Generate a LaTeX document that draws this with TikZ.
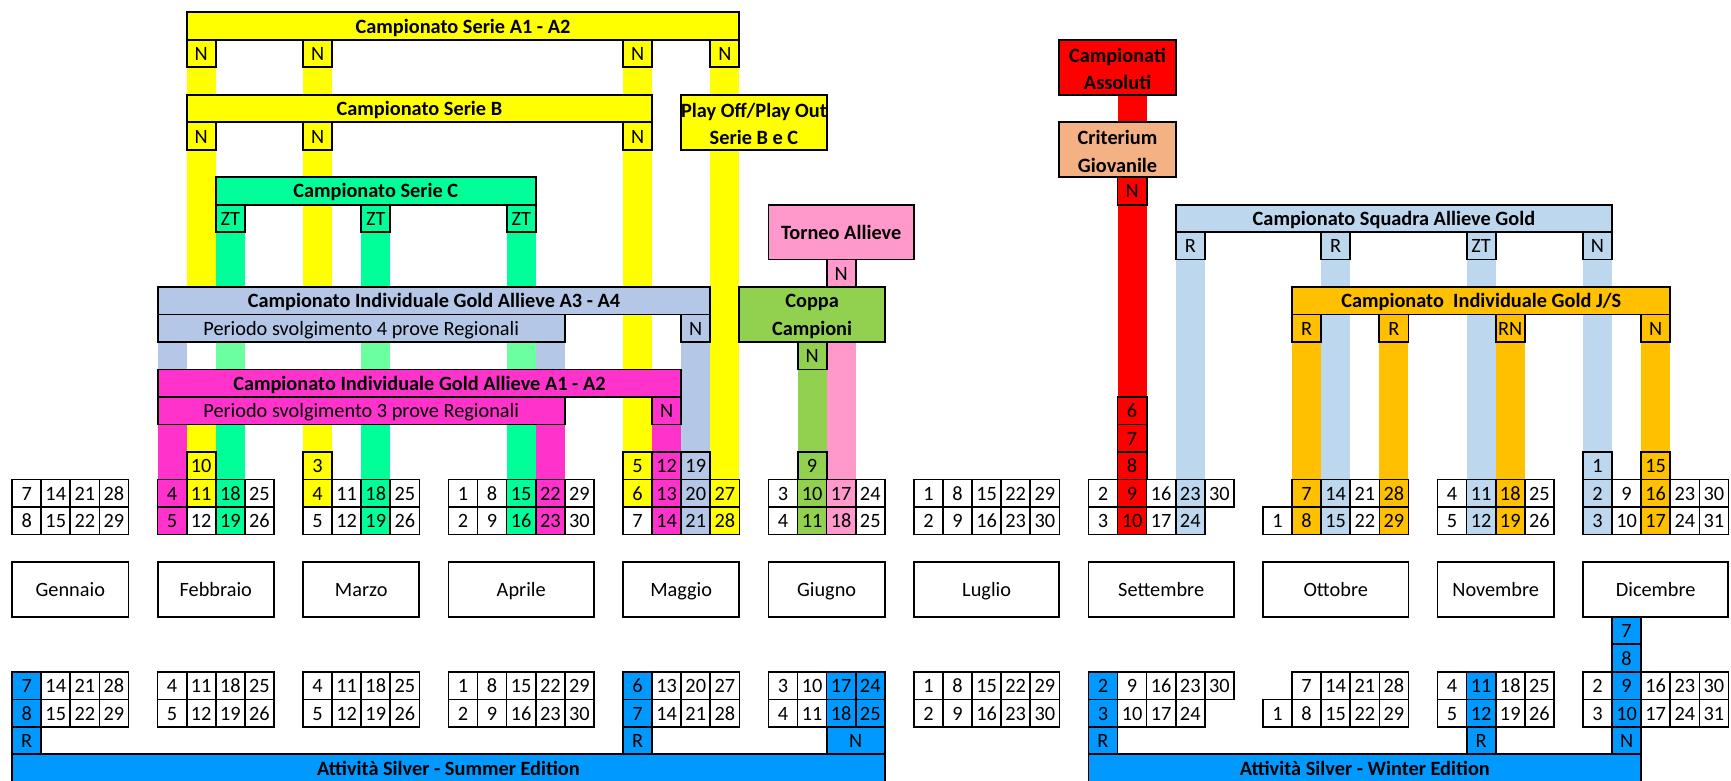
\documentclass[tikz,border=0pt]{standalone}
\usepackage{fontspec}
\setmainfont{Carlito}
\definecolor{cY}{HTML}{FFFF00}
\definecolor{cG}{HTML}{00FF99}
\definecolor{cLG}{HTML}{6CFF9F}
\definecolor{cL}{HTML}{B4C7E7}
\definecolor{cM}{HTML}{FF33CC}
\definecolor{cP}{HTML}{FF99CC}
\definecolor{cO}{HTML}{92D050}
\definecolor{cR}{HTML}{FF0000}
\definecolor{cSa}{HTML}{F4B183}
\definecolor{cB}{HTML}{BDD7EE}
\definecolor{cOr}{HTML}{FFC000}
\definecolor{cS}{HTML}{0099FF}
\tikzset{
  boxline/.style={draw=black, line width=1.7pt},
  cellline/.style={draw=black, line width=1.5pt},
  txt/.style={inner sep=0pt, font=\fontsize{18.4}{24.9}\selectfont, text height=13pt, text depth=0pt},
  txttwo/.style={inner sep=0pt, font=\fontsize{18.4}{24.9}\selectfont, align=center, yshift=-1.6pt},
}
\newcommand\colbar[4]{\fill[#4] (#1,#2) rectangle ({#1+1},{#3+1});}
\newcommand\bx[7]{\draw[boxline,fill=#6] (#2,#3) rectangle ({#4+1},{#5+1});
  \node[txt] (#1) at ({(#2+#4+1)/2},{(#3+#5+1)/2}) {#7};}
\newcommand\bxtwo[7]{\draw[boxline,fill=#6] (#2,#3) rectangle ({#4+1},{#5+1});
  \node[txttwo] (#1) at ({(#2+#4+1)/2},{(#3+#5+1)/2}) {#7};}
\newcommand\dtab[4]{\foreach \v [count=\i from 0] in {#4} {
  \draw[cellline] ({#2+\i},#3) rectangle ({#2+\i+1},{#3+1});
  \node[txt] (#1-\i) at ({#2+\i+0.5},{#3+0.5}) {\v};}}
\begin{document}
\begin{tikzpicture}[x=26.35pt,y=-24.9pt]
\useasboundingbox (-0.4175,-0.4418) rectangle (59.089,27.952);
% ---------- bars ----------
\colbar{6}{2}{2}{cY} \colbar{6}{5}{9}{cY} \colbar{6}{15}{17}{cY}
\colbar{10}{2}{2}{cY} \colbar{10}{5}{9}{cY} \colbar{10}{15}{17}{cY}
\colbar{21}{2}{2}{cY} \colbar{21}{5}{17}{cY}
\colbar{24}{2}{2}{cY} \colbar{24}{5}{18}{cY}
\foreach \c in {7,12,17}{\colbar{\c}{8}{9}{cG} \colbar{\c}{12}{12}{cLG} \colbar{\c}{15}{18}{cG}}
\colbar{5}{12}{12}{cL} \colbar{18}{12}{12}{cL} \colbar{23}{12}{18}{cL}
\colbar{5}{15}{18}{cM} \colbar{18}{15}{18}{cM} \colbar{22}{15}{18}{cM}
\colbar{28}{12}{18}{cP}
\colbar{27}{13}{18}{cO}
\colbar{38}{3}{3}{cR} \colbar{38}{7}{18}{cR}
\foreach \c in {40,45,50,54}{\colbar{\c}{9}{18}{cB}}
\foreach \c in {44,47,51,56}{\colbar{\c}{12}{18}{cOr}}
\colbar{0}{24}{26}{cS} \colbar{21}{24}{26}{cS} \fill[cS] (28,24) rectangle (30,27);
\colbar{37}{24}{26}{cS} \colbar{50}{24}{26}{cS} \colbar{55}{22}{26}{cS}
% ---------- Serie A / B / C ----------
\bx{sa}{6}{0}{24}{0}{cY}{\bfseries Campionato Serie A1 - A2}
\bx{saN1}{6}{1}{6}{1}{cY}{N} \bx{saN2}{10}{1}{10}{1}{cY}{N}
\bx{saN3}{21}{1}{21}{1}{cY}{N} \bx{saN4}{24}{1}{24}{1}{cY}{N}
\bx{sb}{6}{3}{21}{3}{cY}{\bfseries Campionato Serie B}
\bx{sbN1}{6}{4}{6}{4}{cY}{N} \bx{sbN2}{10}{4}{10}{4}{cY}{N} \bx{sbN3}{21}{4}{21}{4}{cY}{N}
\bxtwo{po}{23}{3}{27}{4}{cY}{\bfseries Play Off/Play Out\\\bfseries Serie B e C}
\bx{sc}{7}{6}{17}{6}{cG}{\bfseries Campionato Serie C}
\bx{scZ1}{7}{7}{7}{7}{cG}{ZT} \bx{scZ2}{12}{7}{12}{7}{cG}{ZT} \bx{scZ3}{17}{7}{17}{7}{cG}{ZT}
% ---------- Torneo / Coppa ----------
\bx{ta}{26}{7}{30}{8}{cP}{\bfseries Torneo Allieve}
\bx{taN}{28}{9}{28}{9}{cP}{N}
\bxtwo{cc}{25}{10}{29}{11}{cO}{\bfseries Coppa\\\bfseries Campioni}
\bx{ccN}{27}{12}{27}{12}{cO}{N}
% ---------- Gold Allieve ----------
\bx{g34}{5}{10}{23}{10}{cL}{\bfseries Campionato Individuale Gold Allieve A3 - A4}
\bx{g34p}{5}{11}{18}{11}{cL}{Periodo svolgimento 4 prove Regionali}
\bx{g34N}{23}{11}{23}{11}{cL}{N}
\bx{g12}{5}{13}{22}{13}{cM}{\bfseries Campionato Individuale Gold Allieve A1 - A2}
\bx{g12p}{5}{14}{18}{14}{cM}{Periodo svolgimento 3 prove Regionali}
\bx{g12N}{22}{14}{22}{14}{cM}{N}
% ---------- row 16 extra dates ----------
\bx{e10}{6}{16}{6}{16}{cY}{10} \bx{e3}{10}{16}{10}{16}{cY}{3}
\bx{e5}{21}{16}{21}{16}{cY}{5} \bx{e12}{22}{16}{22}{16}{cM}{12}
\bx{e19}{23}{16}{23}{16}{cL}{19} \bx{e9}{27}{16}{27}{16}{cO}{9}
\bx{e1}{54}{16}{54}{16}{cB}{1} \bx{e15}{56}{16}{56}{16}{cOr}{15}
% ---------- Assoluti / Criterium ----------
\bxtwo{ca}{36}{1}{39}{2}{cR}{\bfseries Campionati\\\bfseries Assoluti}
\bxtwo{cg}{36}{4}{39}{5}{cSa}{\bfseries Criterium\\\bfseries Giovanile}
\bx{cgN}{38}{6}{38}{6}{cR}{N}
\bx{r6}{38}{14}{38}{14}{cR}{6} \bx{r7}{38}{15}{38}{15}{cR}{7} \bx{r8}{38}{16}{38}{16}{cR}{8}
% ---------- Squadra Allieve / J-S ----------
\bx{sq}{40}{7}{54}{7}{cB}{\bfseries Campionato Squadra Allieve Gold}
\bx{sqR1}{40}{8}{40}{8}{cB}{R} \bx{sqR2}{45}{8}{45}{8}{cB}{R}
\bx{sqZ}{50}{8}{50}{8}{cB}{ZT} \bx{sqN}{54}{8}{54}{8}{cB}{N}
\bx{js}{44}{10}{56}{10}{cOr}{\bfseries Campionato\ \ Individuale Gold J/S}
\bx{jsR1}{44}{11}{44}{11}{cOr}{R} \bx{jsR2}{47}{11}{47}{11}{cOr}{R}
\bx{jsRN}{51}{11}{51}{11}{cOr}{RN} \bx{jsN}{56}{11}{56}{11}{cOr}{N}
% ---------- date tables (top) ----------
\dtab{t1a}{0}{17}{7,14,21,28} \dtab{t1b}{0}{18}{8,15,22,29}
\dtab{t2a}{5}{17}{4,11,18,25} \dtab{t2b}{5}{18}{5,12,19,26}
\dtab{t3a}{10}{17}{4,11,18,25} \dtab{t3b}{10}{18}{5,12,19,26}
\dtab{t4a}{15}{17}{1,8,15,22,29} \dtab{t4b}{15}{18}{2,9,16,23,30}
\dtab{t5a}{21}{17}{6,13,20,27} \dtab{t5b}{21}{18}{7,14,21,28}
\dtab{t6a}{26}{17}{3,10,17,24} \dtab{t6b}{26}{18}{4,11,18,25}
\dtab{t7a}{31}{17}{1,8,15,22,29} \dtab{t7b}{31}{18}{2,9,16,23,30}
\dtab{t9a}{37}{17}{2,9,16,23,30} \dtab{t9b}{37}{18}{3,10,17,24}
\dtab{t10a}{44}{17}{7,14,21,28} \dtab{t10b}{43}{18}{1,8,15,22,29}
\dtab{t11a}{49}{17}{4,11,18,25} \dtab{t11b}{49}{18}{5,12,19,26}
\dtab{t12a}{54}{17}{2,9,16,23,30} \dtab{t12b}{54}{18}{3,10,17,24,31}
% ---------- month boxes ----------
\bx{m1}{0}{20}{3}{21}{white}{Gennaio}
\bx{m2}{5}{20}{8}{21}{white}{Febbraio}
\bx{m3}{10}{20}{13}{21}{white}{Marzo}
\bx{m4}{15}{20}{19}{21}{white}{Aprile}
\bx{m5}{21}{20}{24}{21}{white}{Maggio}
\bx{m6}{26}{20}{29}{21}{white}{Giugno}
\bx{m7}{31}{20}{35}{21}{white}{Luglio}
\bx{m9}{37}{20}{41}{21}{white}{Settembre}
\bx{m10}{43}{20}{47}{21}{white}{Ottobre}
\bx{m11}{49}{20}{52}{21}{white}{Novembre}
\bx{m12}{54}{20}{58}{21}{white}{Dicembre}
% ---------- date tables (bottom) ----------
\dtab{b1a}{0}{24}{7,14,21,28} \dtab{b1b}{0}{25}{8,15,22,29}
\dtab{b2a}{5}{24}{4,11,18,25} \dtab{b2b}{5}{25}{5,12,19,26}
\dtab{b3a}{10}{24}{4,11,18,25} \dtab{b3b}{10}{25}{5,12,19,26}
\dtab{b4a}{15}{24}{1,8,15,22,29} \dtab{b4b}{15}{25}{2,9,16,23,30}
\dtab{b5a}{21}{24}{6,13,20,27} \dtab{b5b}{21}{25}{7,14,21,28}
\dtab{b6a}{26}{24}{3,10,17,24} \dtab{b6b}{26}{25}{4,11,18,25}
\dtab{b7a}{31}{24}{1,8,15,22,29} \dtab{b7b}{31}{25}{2,9,16,23,30}
\dtab{b9a}{37}{24}{2,9,16,23,30} \dtab{b9b}{37}{25}{3,10,17,24}
\dtab{b10a}{44}{24}{7,14,21,28} \dtab{b10b}{43}{25}{1,8,15,22,29}
\dtab{b11a}{49}{24}{4,11,18,25} \dtab{b11b}{49}{25}{5,12,19,26}
\dtab{b12a}{54}{24}{2,9,16,23,30} \dtab{b12b}{54}{25}{3,10,17,24,31}
% ---------- Attivita Silver ----------
\bx{d7}{55}{22}{55}{22}{cS}{7} \bx{d8}{55}{23}{55}{23}{cS}{8}
\bx{sR1}{0}{26}{0}{26}{cS}{R} \bx{sR2}{21}{26}{21}{26}{cS}{R} \bx{sN}{28}{26}{29}{26}{cS}{N}
\bx{wR1}{37}{26}{37}{26}{cS}{R} \bx{wR2}{50}{26}{50}{26}{cS}{R} \bx{wN}{55}{26}{55}{26}{cS}{N}
\bx{summer}{0}{27}{29}{27}{cS}{\bfseries Attività Silver - Summer Edition}
\bx{winter}{37}{27}{55}{27}{cS}{\bfseries Attività Silver - Winter Edition}
\end{tikzpicture}
\end{document}
